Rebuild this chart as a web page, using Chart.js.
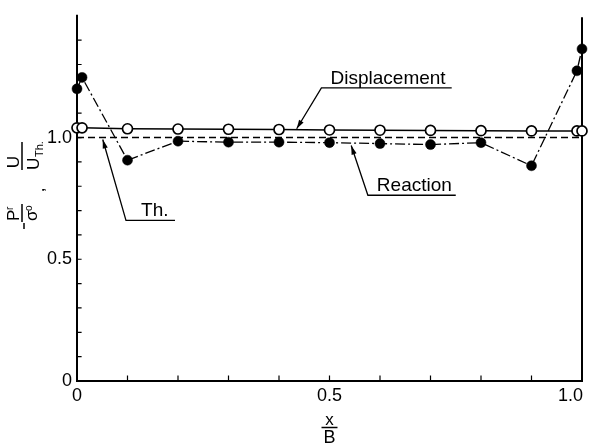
<!DOCTYPE html>
<html><head><meta charset="utf-8">
<script src="https://cdn.jsdelivr.net/npm/chart.js@4"></script>
<style>html,body{margin:0;padding:0;background:#fff}#wrap{width:593px;height:445px}</style>
</head><body><div id="wrap"><canvas id="c" width="593" height="445"></canvas></div>
<script>
// ---- data ----
const xPositions   = [0, 0.01, 0.1, 0.2, 0.3, 0.4, 0.5, 0.6, 0.7, 0.8, 0.9, 0.99, 1.0];
const displacement = [1.04, 1.04, 1.036, 1.035, 1.034, 1.033, 1.031, 1.030, 1.029, 1.028, 1.027, 1.027, 1.027];
const reaction     = [1.20, 1.247, 0.907, 0.985, 0.981, 0.981, 0.979, 0.975, 0.971, 0.979, 0.884, 1.274, 1.364];
const theoryX      = [0, 1.0];
const theory       = [1.0, 1.0];
const xTickValues  = [0, 0.5, 1.0];
const xTickLabels  = ['0', '0.5', '1.0'];
const yTickValues  = [0, 0.5, 1.0];
const yTickLabels  = ['0', '0.5', '1.0'];
const xMinorTicks  = [0.1, 0.2, 0.3, 0.4, 0.5, 0.6, 0.7, 0.8, 0.9];
const yMinorTicks  = [0.1, 0.2, 0.3, 0.4, 0.5, 0.6, 0.7, 0.8, 0.9, 1.0, 1.1, 1.2, 1.3, 1.4];
const annotationLabels = ['Displacement', 'Reaction', 'Th.'];
// label centre x, arrow tip (x,y), leader foot (x,y), underline end x  (data units)
const annotationTextX = [0.616, 0.668, 0.154];
const annotationTip   = [[0.435, 1.036], [0.543, 0.967], [0.051, 0.992]];
const annotationFoot  = [[0.484, 1.204], [0.576, 0.763], [0.097, 0.660]];
const annotationEndX  = [0.742, 0.750, 0.194];

const FONT = '"Liberation Sans", Arial, sans-serif';

const drawPlugin = {
  id: 'paperAxes',
  beforeDatasetsDraw(chart) {
    const {ctx, scales:{x, y}} = chart;
    ctx.save();
    ctx.strokeStyle = '#000';
    ctx.lineWidth = 2;
    ctx.lineCap = 'square';
    ctx.beginPath();
    ctx.moveTo(x.getPixelForValue(0), y.getPixelForValue(1.5));
    ctx.lineTo(x.getPixelForValue(0), y.getPixelForValue(0));
    ctx.lineTo(x.getPixelForValue(1), y.getPixelForValue(0));
    ctx.lineTo(x.getPixelForValue(1), y.getPixelForValue(1.49));
    ctx.stroke();
    ctx.lineWidth = 1.2;
    ctx.beginPath();
    xMinorTicks.forEach(v => {
      const px = x.getPixelForValue(v);
      ctx.moveTo(px, y.getPixelForValue(0));
      ctx.lineTo(px, y.getPixelForValue(0) - 5);
    });
    yMinorTicks.forEach(v => {
      const py = y.getPixelForValue(v);
      ctx.moveTo(x.getPixelForValue(0), py);
      ctx.lineTo(x.getPixelForValue(0) + 4, py);
    });
    ctx.stroke();
    ctx.restore();
  },
  afterDraw(chart) {
    const {ctx, scales:{x, y}} = chart;
    ctx.save();
    ctx.fillStyle = '#000';
    ctx.strokeStyle = '#000';
    // x tick labels
    ctx.font = '18px ' + FONT;
    ctx.textBaseline = 'middle';
    xTickValues.forEach((v, i) => {
      const last = i === xTickValues.length - 1;
      ctx.textAlign = last ? 'right' : 'center';
      ctx.fillText(xTickLabels[i], x.getPixelForValue(v) + (last ? 1 : 0), y.getPixelForValue(0) + 15);
    });
    // annotations
    annotationLabels.forEach((t, i) => {
      const tx = x.getPixelForValue(annotationTip[i][0]), ty = y.getPixelForValue(annotationTip[i][1]);
      const fx = x.getPixelForValue(annotationFoot[i][0]), fy = y.getPixelForValue(annotationFoot[i][1]);
      const ex = x.getPixelForValue(annotationEndX[i]);
      ctx.lineWidth = 1.3;
      ctx.beginPath();
      ctx.moveTo(ex, fy); ctx.lineTo(fx, fy); ctx.lineTo(tx, ty);
      ctx.stroke();
      const ang = Math.atan2(ty - fy, tx - fx);
      const L = 9, W = 2.6;
      ctx.beginPath();
      ctx.moveTo(tx, ty);
      ctx.lineTo(tx - L*Math.cos(ang) + W*Math.sin(ang), ty - L*Math.sin(ang) - W*Math.cos(ang));
      ctx.lineTo(tx - L*Math.cos(ang) - W*Math.sin(ang), ty - L*Math.sin(ang) + W*Math.cos(ang));
      ctx.closePath();
      ctx.fill();
      ctx.font = '19px ' + FONT;
      ctx.textAlign = 'center';
      ctx.textBaseline = 'alphabetic';
      ctx.fillText(t, x.getPixelForValue(annotationTextX[i]), fy - 4);
    });
    // x axis title: x / B
    const cx = x.getPixelForValue(0.5);
    ctx.textAlign = 'center';
    ctx.font = '17px ' + FONT;
    ctx.textBaseline = 'alphabetic';
    ctx.fillText('x', cx, 425);
    ctx.lineWidth = 1.5;
    ctx.beginPath(); ctx.moveTo(cx - 8, 427.5); ctx.lineTo(cx + 8, 427.5); ctx.stroke();
    ctx.font = '18px ' + FONT;
    ctx.fillText('B', cx, 443);
    // y axis title (rotated)
    const frac = (pcx, pcy, drawNum, drawDen, w) => {
      ctx.save();
      ctx.translate(pcx, pcy);
      ctx.rotate(-Math.PI / 2);
      ctx.lineWidth = 1.5;
      ctx.beginPath(); ctx.moveTo(-w/2, 0); ctx.lineTo(w/2, 0); ctx.stroke();
      drawNum(); drawDen();
      ctx.restore();
    };
    ctx.textBaseline = 'alphabetic';
    frac(22, 156, () => {
      ctx.font = '17px ' + FONT; ctx.textAlign = 'center';
      ctx.fillText('U', -6, -3);
    }, () => {
      ctx.font = '17px ' + FONT; ctx.textAlign = 'left';
      ctx.fillText('U', -14, 17);
      ctx.font = '11px ' + FONT;
      ctx.fillText('Th.', -1, 21);
    }, 28);
    frac(22, 213, () => {
      ctx.font = '17px ' + FONT; ctx.textAlign = 'left';
      ctx.fillText('P', -8, -3);
      ctx.font = '10px ' + FONT;
      ctx.fillText('r', 3, -9);
    }, () => {
      ctx.font = '17px ' + FONT; ctx.textAlign = 'left';
      ctx.fillText('σ', -8, 15);
      ctx.font = '10px ' + FONT;
      ctx.fillText('o', 2, 10);
    }, 18);
    ctx.lineWidth = 1.5;
    ctx.beginPath(); ctx.moveTo(24, 223); ctx.lineTo(24, 229); ctx.stroke();
    ctx.save();
    ctx.translate(44, 190); ctx.rotate(-Math.PI / 2);
    ctx.font = '17px ' + FONT; ctx.textAlign = 'center';
    ctx.fillText(',', 0, 0);
    ctx.restore();
    ctx.restore();
  }
};

const pts = (xs, ys) => xs.map((v, i) => ({x: v, y: ys[i]}));

new Chart(document.getElementById('c'), {
  type: 'scatter',
  data: {
    datasets: [
      { label: 'Displacement', data: pts(xPositions, displacement), showLine: true,
        borderColor: '#000', borderWidth: 1.6, pointRadius: 5, pointBackgroundColor: '#fff',
        pointBorderColor: '#000', pointBorderWidth: 1.7, clip: false },
      { label: 'Reaction', data: pts(xPositions, reaction), showLine: true,
        borderColor: '#000', borderWidth: 1.3, borderDash: [10, 3, 2, 3], pointRadius: 5,
        pointBackgroundColor: '#000', pointBorderColor: '#000', pointBorderWidth: 0.5, clip: false },
      { label: 'Th.', data: pts(theoryX, theory), showLine: true,
        borderColor: '#000', borderWidth: 1.5, borderDash: [7, 4], pointRadius: 0, clip: false }
    ]
  },
  options: {
    responsive: false,
    animation: false,
    events: [],
    layout: { padding: { top: 9, right: 11, left: 0, bottom: 0 } },
    plugins: { legend: { display: false }, tooltip: { enabled: false } },
    scales: {
      x: { type: 'linear', min: 0, max: 1,
           grid: { display: false, drawTicks: false }, border: { display: false },
           ticks: { display: false },
           afterFit: s => { s.height = 64; } },
      y: { type: 'linear', min: 0, max: 1.5,
           grid: { display: false, drawTicks: false }, border: { display: false },
           afterBuildTicks: s => { s.ticks = yTickValues.map(v => ({ value: v })); },
           ticks: { color: '#000', padding: 5, autoSkip: false,
                    font: { family: FONT, size: 18 },
                    callback: (v, i) => yTickLabels[i] },
           afterFit: s => { s.width = 77; } }
    }
  },
  plugins: [drawPlugin]
});
</script>
</body></html>
